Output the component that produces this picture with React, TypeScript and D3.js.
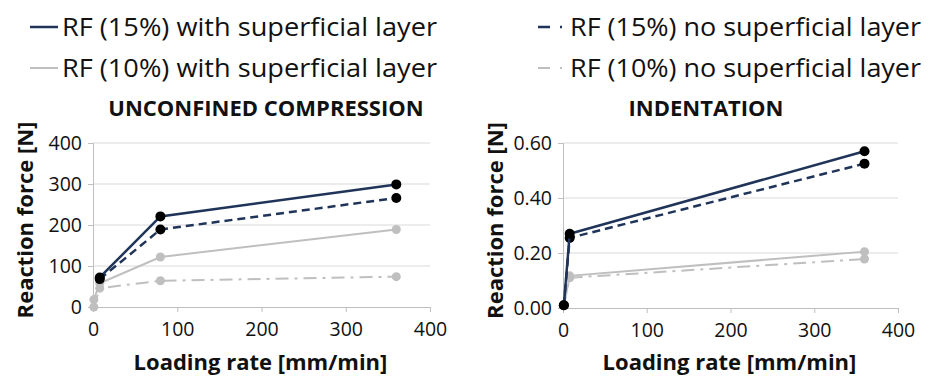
import React, { useEffect, useRef } from 'react'
import * as d3 from 'd3'

// loading rates [mm/min]
const compressionRates = [1, 8, 80, 360]
const indentationRates = [1, 8, 360]
const xTicks = [0, 100, 200, 300, 400]

// unconfined compression, reaction force [N]
const ucWith15 = [null, 72, 221, 299]
const ucNo15 = [null, 68, 189, 266]
const ucWith10 = [18, 58, 122, 189]
const ucNo10 = [0, 46, 64, 74]
const ucYTicks = [0, 100, 200, 300, 400]

// indentation, reaction force [N]
const inWith15 = [0.01, 0.27, 0.57]
const inNo15 = [0.01, 0.255, 0.525]
const inWith10 = [0.01, 0.117, 0.205]
const inNo10 = [0.01, 0.11, 0.178]
const inYTicks = [0, 0.2, 0.4, 0.6]

const legendLabels = [
  'RF (15%) with superficial layer',
  'RF (15%) no superficial layer',
  'RF (10%) with superficial layer',
  'RF (10%) no superficial layer',
]

const NAVY = '#1f3458'
const GREY = '#bfbfbf'
const FONT = '"Open Sans", sans-serif'

const styles = [
  { stroke: NAVY, dash: null, width: 2.5, dot: '#000', r: 5 },
  { stroke: NAVY, dash: '8,5', width: 2.5, dot: '#000', r: 5 },
  { stroke: GREY, dash: null, width: 2, dot: GREY, r: 4.5 },
  { stroke: GREY, dash: '13,6,3,6', width: 2, dot: GREY, r: 4.5 },
]

const App = () => {
  const svgRef = useRef(null)

  useEffect(() => {
    const svg = d3.select(svgRef.current)
    svg.selectAll('*').remove()

    // legend (two columns, two rows)
    const legendPos = [
      { x1: 30, x2: 58, tx: 62, y: 27, w: 375 },
      { x1: 538, x2: 566, tx: 570, y: 27, w: 351 },
      { x1: 30, x2: 58, tx: 62, y: 68, w: 375 },
      { x1: 538, x2: 566, tx: 570, y: 68, w: 351 },
    ]
    legendLabels.forEach((label, i) => {
      const p = legendPos[i]
      const st = styles[i]
      svg.append('line')
        .attr('x1', p.x1).attr('x2', p.x2)
        .attr('y1', p.y).attr('y2', p.y)
        .attr('stroke', st.stroke)
        .attr('stroke-width', st.width)
        .attr('stroke-dasharray', st.dash ? '12,10,2,10' : null)
      svg.append('text')
        .attr('x', p.tx).attr('y', p.y + 9)
        .attr('font-family', FONT)
        .attr('font-size', 25)
        .attr('textLength', p.w)
        .attr('lengthAdjust', 'spacingAndGlyphs')
        .attr('fill', '#111')
        .text(label)
    })

    const drawPanel = (opts) => {
      const { left, right, top, bottom, yMax, yTicks, yFmt, title, titleX, xs, series, labelX } = opts
      const x = d3.scaleLinear().domain([0, 400]).range([left, right])
      const y = d3.scaleLinear().domain([0, yMax]).range([bottom, top])
      const g = svg.append('g')

      // gridlines
      g.selectAll('.grid')
        .data(yTicks.slice(1))
        .join('line')
        .attr('x1', left).attr('x2', right)
        .attr('y1', (d) => y(d)).attr('y2', (d) => y(d))
        .attr('stroke', '#d9d9d9')
        .attr('stroke-width', 1)

      const xAxis = d3.axisBottom(x).tickValues(xTicks).tickSize(5).tickPadding(7)
      const gx = g.append('g').attr('transform', `translate(0,${bottom})`).call(xAxis)
      const yAxis = d3.axisLeft(y).tickValues(yTicks).tickSize(5).tickPadding(6).tickFormat(yFmt)
      const gy = g.append('g').attr('transform', `translate(${left},0)`).call(yAxis)
      for (const ax of [gx, gy]) {
        ax.select('.domain').attr('stroke', '#bfbfbf').attr('stroke-width', 1)
        ax.selectAll('.tick line').attr('stroke', '#bfbfbf')
        ax.selectAll('.tick text')
          .attr('font-family', FONT)
          .attr('font-size', 19.5)
          .attr('fill', '#111')
      }
      gx.selectAll('.tick text').attr('dy', '0.85em')

      // series, grey first so the navy ones sit on top
      const order = [3, 2, 1, 0]
      order.forEach((si) => {
        const st = styles[si]
        const pts = xs.map((v, i) => [v, series[si][i]])
        const lineGen = d3.line()
          .defined((d) => d[1] !== null)
          .x((d) => x(d[0]))
          .y((d) => y(d[1]))
        g.append('path')
          .attr('d', lineGen(pts))
          .attr('fill', 'none')
          .attr('stroke', st.stroke)
          .attr('stroke-width', st.width)
          .attr('stroke-dasharray', st.dash)
        g.selectAll(`.dot${si}`)
          .data(pts.filter((d) => d[1] !== null))
          .join('circle')
          .attr('cx', (d) => x(d[0]))
          .attr('cy', (d) => y(d[1]))
          .attr('r', st.r)
          .attr('fill', st.dot)
      })

      // titles
      g.append('text')
        .attr('x', titleX).attr('y', 116)
        .attr('text-anchor', 'middle')
        .attr('font-family', FONT)
        .attr('font-weight', 'bold')
        .attr('font-size', 22)
        .attr('fill', '#111')
        .text(title)
      g.append('text')
        .attr('x', (left + right) / 2 - 1).attr('y', 370)
        .attr('text-anchor', 'middle')
        .attr('font-family', FONT)
        .attr('font-weight', 'bold')
        .attr('font-size', 22)
        .attr('fill', '#111')
        .text('Loading rate [mm/min]')
      g.append('text')
        .attr('transform', `translate(${labelX},${(top + bottom) / 2 - 5}) rotate(-90)`)
        .attr('text-anchor', 'middle')
        .attr('font-family', FONT)
        .attr('font-weight', 'bold')
        .attr('font-size', 22)
        .attr('fill', '#111')
        .text('Reaction force [N]')
    }

    drawPanel({
      left: 93, right: 430, top: 143, bottom: 307,
      yMax: 400, yTicks: ucYTicks, yFmt: d3.format('d'),
      title: 'UNCONFINED COMPRESSION', titleX: 266,
      xs: compressionRates,
      series: [ucWith15, ucNo15, ucWith10, ucNo10],
      labelX: 33,
    })
    drawPanel({
      left: 563, right: 898, top: 143, bottom: 308,
      yMax: 0.6, yTicks: inYTicks, yFmt: d3.format('.2f'),
      title: 'INDENTATION', titleX: 706,
      xs: indentationRates,
      series: [inWith15, inNo15, inWith10, inNo10],
      labelX: 503,
    })
  }, [])

  return (
    <svg
      ref={svgRef}
      width={936}
      height={377}
      style={{ position: 'absolute', left: 0, top: 0, background: '#fff' }}
    />
  )
}

export default App
